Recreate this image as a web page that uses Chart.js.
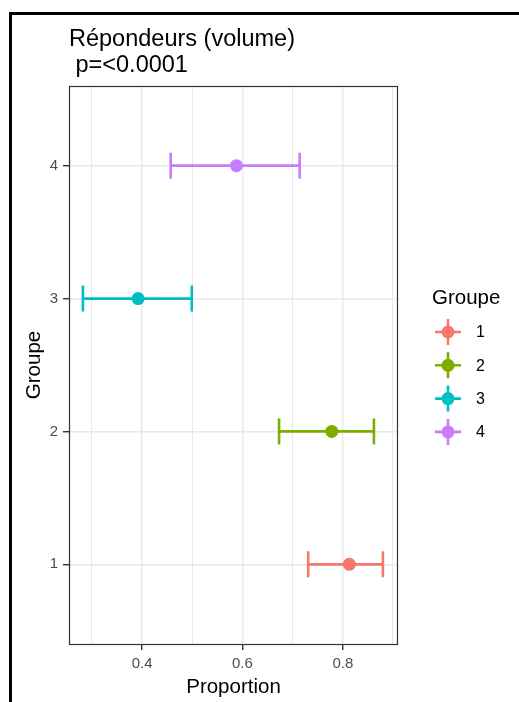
<!DOCTYPE html>
<html>
<head>
<meta charset="utf-8">
<script src="https://cdn.jsdelivr.net/npm/chart.js@4.4.1/dist/chart.umd.min.js"></script>
<style>
  html, body { margin: 0; padding: 0; background: #fff; }
  canvas { display: block; }
</style>
</head>
<body>
<canvas id="myChart" width="519" height="702"></canvas>
<script>
// données
const groupes = ['1', '2', '3', '4'];
const proportion = [0.813, 0.778, 0.392, 0.588];
const borneBasse = [0.731, 0.673, 0.282, 0.457];
const borneHaute = [0.880, 0.862, 0.499, 0.714];
const couleurs = ['#F8766D', '#7CAE00', '#00BFC4', '#C77CFF'];
const xTicks = [0.3, 0.4, 0.5, 0.6, 0.7, 0.8, 0.9];
const xLabels = ['0.4', '0.6', '0.8'];
const titre = ['Répondeurs (volume)', ' p=<0.0001'];
const legendeTitre = 'Groupe';

const police = '"Liberation Sans", Arial, Helvetica, sans-serif';

const datasets = groupes.map((g, i) => ({
    label: g,
    data: [
        { x: borneBasse[i], y: i + 1 },
        { x: proportion[i], y: i + 1 },
        { x: borneHaute[i], y: i + 1 }
    ],
    showLine: true,
    borderColor: couleurs[i],
    backgroundColor: couleurs[i],
    borderWidth: 2.8,
    pointStyle: ['line', 'circle', 'line'],
    pointRadius: [13, 6.5, 13],
    pointHoverRadius: [13, 6.5, 13],
    pointRotation: [90, 0, 90],
    pointBorderWidth: [2.6, 0, 2.6],
    pointBorderColor: couleurs[i],
    pointBackgroundColor: couleurs[i],
    clip: false
}));

// titre, légende, cadres
const decor = {
    id: 'decor',
    afterDatasetsDraw(chart) {
        const { ctx, chartArea: a } = chart;
        ctx.save();
        ctx.strokeStyle = '#333333';
        ctx.lineWidth = 1.2;
        ctx.strokeRect(a.left + 0.5, a.top + 0.5, a.right - a.left - 1, a.bottom - a.top);
        ctx.restore();
    },
    afterDraw(chart) {
        const ctx = chart.ctx;
        ctx.save();
        // cadre extérieur
        ctx.fillStyle = '#000';
        ctx.fillRect(9, 12, 3, 702);
        ctx.fillRect(9, 12, 519, 3);

        // titre
        ctx.font = '23.5px ' + police;
        ctx.textBaseline = 'alphabetic';
        ctx.textAlign = 'left';
        ctx.fillText(titre[0], 69, 46);
        ctx.fillText(titre[1], 69, 72);

        // légende
        ctx.font = '20.5px ' + police;
        ctx.fillText(legendeTitre, 432, 304);
        ctx.font = '16px ' + police;
        ctx.textBaseline = 'middle';
        groupes.forEach((g, i) => {
            const cx = 448, cy = 332 + i * 33.3;
            ctx.strokeStyle = couleurs[i];
            ctx.fillStyle = couleurs[i];
            ctx.lineWidth = 2.6;
            ctx.beginPath();
            ctx.moveTo(cx - 13, cy); ctx.lineTo(cx + 13, cy);
            ctx.moveTo(cx, cy - 13); ctx.lineTo(cx, cy + 13);
            ctx.stroke();
            ctx.beginPath();
            ctx.arc(cx, cy, 6.5, 0, Math.PI * 2);
            ctx.fill();
            ctx.fillStyle = '#000';
            ctx.fillText(g, 476, cy + 1);
        });
        ctx.restore();
    }
};

const ctx = document.getElementById('myChart').getContext('2d');
const myChart = new Chart(ctx, {
    type: 'scatter',
    data: { datasets: datasets },
    options: {
        responsive: false,
        animation: false,
        devicePixelRatio: 1,
        layout: { padding: { top: 86, right: 121, bottom: 0, left: 0 } },
        plugins: {
            legend: { display: false },
            title: { display: false },
            tooltip: { enabled: false }
        },
        scales: {
            x: {
                type: 'linear',
                min: 0.2543,
                max: 0.910,
                afterBuildTicks: axis => { axis.ticks = xTicks.map(v => ({ value: v })); },
                afterFit: s => { s.height = 58; },
                ticks: {
                    autoSkip: false,
                    maxRotation: 0,
                    padding: 5,
                    color: '#4D4D4D',
                    font: { family: police, size: 15 },
                    callback: v => xLabels.includes(v.toFixed(1)) ? v.toFixed(1) : ''
                },
                grid: {
                    color: '#E8E8E8',
                    lineWidth: c => (c.tick && xLabels.includes(c.tick.value.toFixed(1))) ? 1.4 : 1,
                    tickLength: 6,
                    tickColor: c => (c.tick && xLabels.includes(c.tick.value.toFixed(1))) ? '#333333' : 'rgba(0,0,0,0)'
                },
                border: { display: false },
                title: {
                    display: true,
                    text: 'Proportion',
                    color: '#000',
                    font: { family: police, size: 20.5 },
                    padding: { top: 0, bottom: 2 }
                }
            },
            y: {
                type: 'linear',
                min: 0.4,
                max: 4.6,
                afterBuildTicks: axis => { axis.ticks = groupes.map((g, i) => ({ value: i + 1 })); },
                afterFit: s => { s.width = 69; },
                ticks: {
                    autoSkip: false,
                    padding: 5,
                    color: '#4D4D4D',
                    font: { family: police, size: 15 },
                    callback: v => groupes[Math.round(v) - 1]
                },
                grid: {
                    color: '#E8E8E8',
                    lineWidth: 1.4,
                    tickLength: 6,
                    tickColor: '#333333'
                },
                border: { display: false },
                title: {
                    display: true,
                    text: 'Groupe',
                    color: '#000',
                    font: { family: police, size: 20.5 },
                    padding: { top: 22, bottom: 0 }
                }
            }
        }
    },
    plugins: [decor]
});
</script>
</body>
</html>
